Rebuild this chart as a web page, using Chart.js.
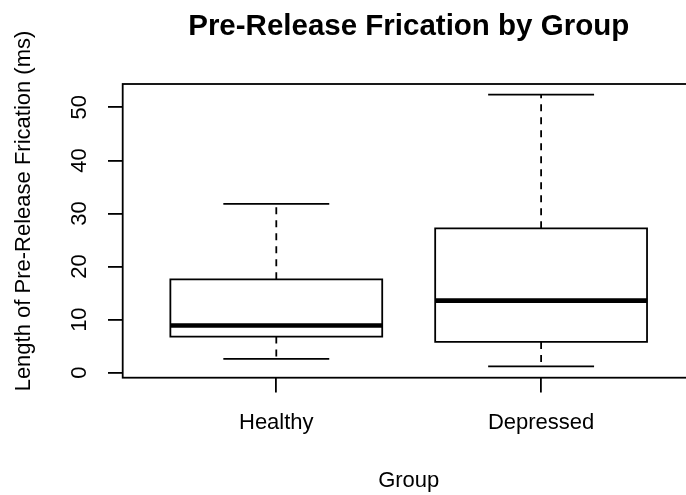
<!DOCTYPE html>
<html>
<head>
<meta charset="utf-8">
<script src="https://cdn.jsdelivr.net/npm/chart.js@4.4.1/dist/chart.umd.min.js"></script>
<style>
    html, body { margin: 0; padding: 0; background: #fff; overflow: hidden; }
    #wrap { width: 686px; height: 495px; overflow: hidden; }
    #wrap canvas { display: block; }
</style>
</head>
<body>
<div id="wrap"><canvas id="chart" width="700" height="495" style="width:700px;height:495px"></canvas></div>
<script>
// values
const groups = ['Healthy', 'Depressed'];
const whiskerLow = [2.6, 1.2];
const quartile1 = [6.8, 5.8];
const medians = [8.9, 13.6];
const quartile3 = [17.6, 27.2];
const whiskerHigh = [31.8, 52.4];
const yTicks = [0, 10, 20, 30, 40, 50];

const FONT = 'Liberation Sans, Arial, sans-serif';
const BOX_HALF = 0.4;
const CAP_HALF = 0.2;

// one point list per mark type, groups separated by a gap
function buildPoints(fn) {
    let pts = [];
    groups.forEach((g, i) => {
        pts.push(...fn(i + 1, i));
        pts.push({ x: i + 1.5, y: null });
    });
    return pts;
}

const boxPoints = buildPoints((x, i) => [
    { x: x - BOX_HALF, y: quartile1[i] },
    { x: x + BOX_HALF, y: quartile1[i] },
    { x: x + BOX_HALF, y: quartile3[i] },
    { x: x - BOX_HALF, y: quartile3[i] },
    { x: x - BOX_HALF, y: quartile1[i] },
    { x: x + BOX_HALF, y: quartile1[i] }
]);
const medianPoints = buildPoints((x, i) => [
    { x: x - BOX_HALF, y: medians[i] },
    { x: x + BOX_HALF, y: medians[i] }
]);
const upperWhisker = buildPoints((x, i) => [
    { x: x, y: quartile3[i] },
    { x: x, y: whiskerHigh[i] }
]);
const lowerWhisker = buildPoints((x, i) => [
    { x: x, y: quartile1[i] },
    { x: x, y: whiskerLow[i] }
]);
const capPoints = buildPoints((x, i) => [
    { x: x - CAP_HALF, y: whiskerHigh[i] },
    { x: x + CAP_HALF, y: whiskerHigh[i] },
    { x: x, y: null },
    { x: x - CAP_HALF, y: whiskerLow[i] },
    { x: x + CAP_HALF, y: whiskerLow[i] }
]);

function lineSet(label, data, width, dash) {
    return {
        label: label,
        data: data,
        borderColor: '#000',
        borderWidth: width,
        borderDash: dash || [],
        borderCapStyle: 'butt',
        borderJoinStyle: 'miter',
        pointRadius: 0,
        fill: false,
        spanGaps: false,
        tension: 0
    };
}

const framePlugin = {
    id: 'frame',
    afterDatasetsDraw(chart) {
        const { ctx, chartArea: a } = chart;
        ctx.save();
        ctx.strokeStyle = '#000';
        ctx.lineWidth = 1.8;
        ctx.strokeRect(a.left, a.top, a.right - a.left, a.bottom - a.top);
        ctx.restore();
    }
};

const yTitlePlugin = {
    id: 'yTitle',
    afterDraw(chart) {
        const ctx = chart.ctx;
        ctx.save();
        ctx.translate(23.5, 211);
        ctx.rotate(-Math.PI / 2);
        ctx.font = '22px ' + FONT;
        ctx.fillStyle = '#000';
        ctx.textAlign = 'center';
        ctx.textBaseline = 'middle';
        ctx.fillText('Length of Pre-Release Frication (ms)', 0, 0);
        ctx.restore();
    }
};

const axisGrid = {
    drawOnChartArea: false,
    drawTicks: true,
    tickLength: 14.7,
    color: '#000',
    lineWidth: 1.8
};

new Chart(document.getElementById('chart'), {
    type: 'line',
    data: {
        datasets: [
            lineSet('upper whisker', upperWhisker, 1.8, [7, 6]),
            lineSet('lower whisker', lowerWhisker, 1.8, [7, 6]),
            lineSet('caps', capPoints, 1.8),
            lineSet('boxes', boxPoints, 1.8),
            lineSet('medians', medianPoints, 4.7)
        ]
    },
    options: {
        responsive: false,
        animation: false,
        layout: { padding: { right: 5.3 } },
        plugins: {
            legend: { display: false },
            tooltip: { enabled: false },
            title: {
                display: true,
                text: 'Pre-Release Frication by Group',
                fullSize: false,
                color: '#000',
                font: { family: FONT, size: 29.5, weight: 'bold' },
                padding: { top: 9.0, bottom: 39.6 }
            }
        },
        scales: {
            x: {
                type: 'linear',
                min: 0.42,
                max: 2.58,
                afterBuildTicks: (s) => { s.ticks = groups.map((g, i) => ({ value: i + 1 })); },
                afterFit: (s) => { s.height = 117.3; },
                ticks: {
                    callback: (v) => groups[v - 1],
                    color: '#000',
                    font: { family: FONT, size: 22 },
                    padding: 17.4,
                    minRotation: 0,
                    maxRotation: 0,
                    autoSkip: false
                },
                grid: axisGrid,
                border: { display: false },
                title: {
                    display: true,
                    text: 'Group',
                    color: '#000',
                    font: { family: FONT, size: 22 },
                    padding: { top: 0, bottom: 1.2 }
                }
            },
            y: {
                min: -0.94,
                max: 54.4,
                afterBuildTicks: (s) => { s.ticks = yTicks.map((v) => ({ value: v })); },
                afterFit: (s) => { s.width = 122.7; },
                ticks: {
                    callback: (v) => String(v),
                    color: '#000',
                    font: { family: FONT, size: 22 },
                    padding: 16.3,
                    minRotation: 90,
                    maxRotation: 90,
                    crossAlign: 'center',
                    autoSkip: false
                },
                grid: axisGrid,
                border: { display: false }
            }
        }
    },
    plugins: [framePlugin, yTitlePlugin]
});
</script>
</body>
</html>
